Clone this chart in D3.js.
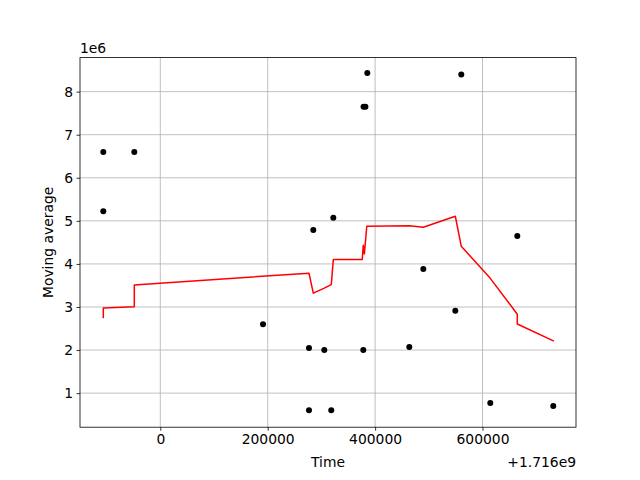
<!DOCTYPE html>
<html>
<head>
<meta charset="utf-8">
<script src="https://cdn.jsdelivr.net/npm/d3@7"></script>
<style>
  html, body { margin: 0; padding: 0; background: #fff; }
  svg { display: block; }
  text { font-family: "DejaVu Sans", sans-serif; fill: #000; }
</style>
</head>
<body>
<svg id="chart" width="640" height="480"></svg>
<script>
// Time values are offsets from TIME_OFFSET (seconds)
const TIME_OFFSET = 1.716e9;
const VALUE_SCALE = 1e6;

// Scatter points (raw values)
const pointTimes = [-106150, -48400, -106150, 284900, 385500, 560500, 378500, 382000, 322200, 664800,
                    191300, 276900, 305400, 276900, 318400, 378000, 463700, 489800, 549400, 614500, 731800];
const pointValues = [6.60e6, 6.60e6, 5.22e6, 4.79e6, 8.43e6, 8.40e6, 7.65e6, 7.65e6, 5.07e6, 4.65e6,
                     2.60e6, 2.05e6, 2.00e6, 0.605e6, 0.605e6, 2.00e6, 2.07e6, 3.88e6, 2.91e6, 0.77e6, 0.70e6];

// Moving average line
const maTimes = [-106150, -106150, -48400, -48400, 276900, 284900, 305400, 318400, 322200, 376000,
                 378000, 380000, 384500, 463700, 489800, 549400, 560500, 614500, 664800, 664800, 731800];
const maValues = [2.758e6, 2.977e6, 3.007e6, 3.512e6, 3.786e6, 3.321e6, 3.437e6, 3.519e6, 4.10e6, 4.10e6,
                  4.433e6, 4.233e6, 4.874e6, 4.884e6, 4.851e6, 5.107e6, 4.409e6, 3.665e6, 2.833e6, 2.605e6, 2.216e6];

const xTicks = [0, 200000, 400000, 600000];
const yTicks = [1e6, 2e6, 3e6, 4e6, 5e6, 6e6, 7e6, 8e6];

const xLabel = "Time";
const yLabel = "Moving average";

const svg = d3.select("#chart");
const mLeft = 80, mRight = 576, mTop = 57.6, mBottom = 427.2;
const fs = 13.89;

const x = d3.scaleLinear().domain([-149535, 774120]).range([mLeft, mRight]);
const y = d3.scaleLinear().domain([0.209e6, 8.79e6]).range([mBottom, mTop]);

// grid
const grid = svg.append("g");
grid.selectAll("line.vx").data(xTicks).enter().append("line")
  .attr("x1", d => x(d)).attr("x2", d => x(d)).attr("y1", mTop).attr("y2", mBottom)
  .attr("stroke", "#b0b0b0").attr("stroke-width", 0.8);
grid.selectAll("line.hy").data(yTicks).enter().append("line")
  .attr("x1", mLeft).attr("x2", mRight).attr("y1", d => y(d)).attr("y2", d => y(d))
  .attr("stroke", "#b0b0b0").attr("stroke-width", 0.8);

// axes
const xAxis = d3.axisBottom(x).tickValues(xTicks).tickSize(3.5).tickPadding(3.5).tickFormat(d3.format("d"));
const yAxis = d3.axisLeft(y).tickValues(yTicks).tickSize(3.5).tickPadding(3.5).tickFormat(d => d / VALUE_SCALE);

const gx = svg.append("g").attr("transform", `translate(0,${mBottom})`).call(xAxis);
const gy = svg.append("g").attr("transform", `translate(${mLeft},0)`).call(yAxis);
[gx, gy].forEach(g => {
  g.select(".domain").remove();
  g.selectAll(".tick line").attr("stroke", "#000").attr("stroke-width", 0.8);
  g.selectAll(".tick text").attr("font-size", fs).attr("font-family", "DejaVu Sans").attr("fill", "#000");
});

// moving average line
const line = d3.line().x((d, i) => x(maTimes[i])).y((d, i) => y(maValues[i]));
svg.append("path").datum(maValues).attr("d", line)
  .attr("fill", "none").attr("stroke", "#ff0000").attr("stroke-width", 1.5)
  .attr("stroke-linejoin", "round").attr("stroke-linecap", "square");

// points
svg.append("g").selectAll("circle").data(pointValues).enter().append("circle")
  .attr("cx", (d, i) => x(pointTimes[i])).attr("cy", d => y(d)).attr("r", 3).attr("fill", "#000");

// frame
svg.append("rect").attr("x", mLeft).attr("y", mTop).attr("width", mRight - mLeft).attr("height", mBottom - mTop)
  .attr("fill", "none").attr("stroke", "#000").attr("stroke-width", 0.8);

// labels
svg.append("text").attr("x", (mLeft + mRight) / 2).attr("y", 467).attr("text-anchor", "middle")
  .attr("font-size", fs).text(xLabel);
svg.append("text").attr("transform", `translate(53,${(mTop + mBottom) / 2}) rotate(-90)`)
  .attr("text-anchor", "middle").attr("font-size", fs).text(yLabel);
svg.append("text").attr("x", mLeft).attr("y", 53).attr("font-size", fs).text("1e6");
svg.append("text").attr("x", mRight).attr("y", 467).attr("text-anchor", "end").attr("font-size", fs).text("+1.716e9");
</script>
</body>
</html>
